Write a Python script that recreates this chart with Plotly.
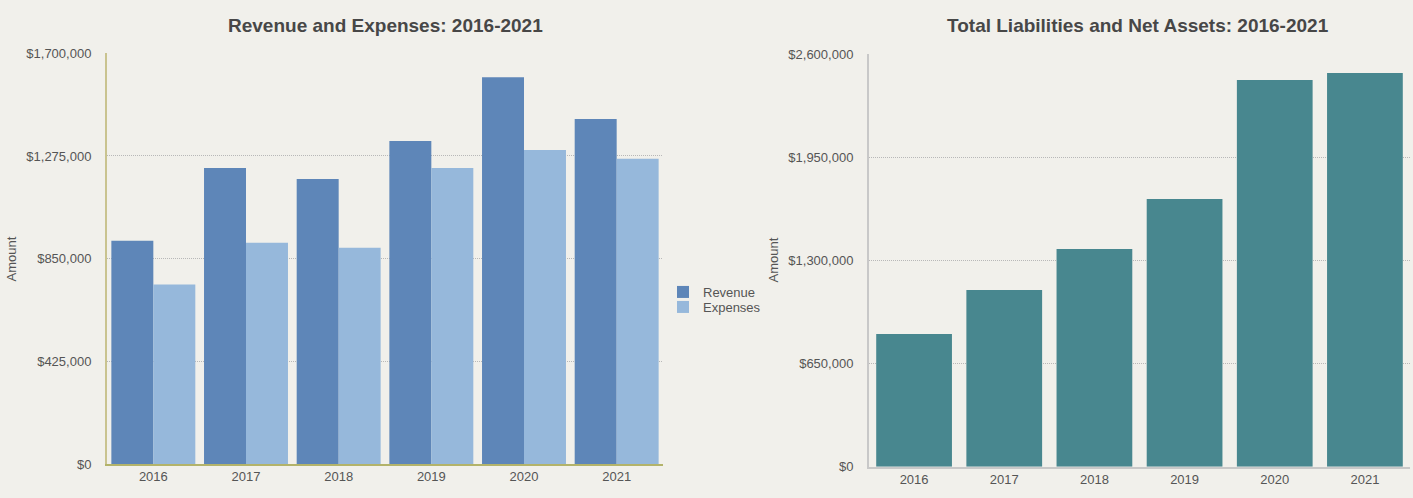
import plotly.graph_objects as go

years = ["2016", "2017", "2018", "2019", "2020", "2021"]
revenue = [924000, 1225000, 1180000, 1337000, 1601000, 1428000]
expenses = [743000, 916000, 895000, 1225000, 1300000, 1263000]
liab_net_assets = [836000, 1113000, 1372000, 1687000, 2436000, 2480000]

left_ticks = [0, 425000, 850000, 1275000, 1700000]
right_ticks = [0, 650000, 1300000, 1950000, 2600000]

W, H = 1413, 498
T, B = 53, 31
PH = H - T - B
BG = "#f1f0eb"
FONT = "Liberation Sans, Arial, sans-serif"


def px(x):
    return x / W


def py(y):
    return (H - B - y) / PH


fig = go.Figure()
fig.add_trace(go.Bar(x=years, y=revenue, name="Revenue", marker=dict(color="#5e86b8", line=dict(width=0)),
                     xaxis="x", yaxis="y", legend="legend"))
fig.add_trace(go.Bar(x=years, y=expenses, name="Expenses", marker=dict(color="#96b8db", line=dict(width=0)),
                     xaxis="x", yaxis="y", legend="legend2"))
fig.add_trace(go.Bar(x=years, y=liab_net_assets, name="Total Liabilities and Net Assets",
                     marker=dict(color="#48878f", line=dict(width=0)), showlegend=False,
                     xaxis="x2", yaxis="y2", width=0.84))

tickfont = dict(family=FONT, size=13, color="#555555")
legfont = dict(family=FONT, size=13, color="#555555")


def ytext(v):
    return "$" + format(v, ",")


GRID = dict(showgrid=True, gridcolor="#b8b8b8", griddash="1px,1px", gridwidth=1)

fig.update_layout(
    width=W, height=H,
    paper_bgcolor=BG, plot_bgcolor=BG,
    margin=dict(l=0, r=0, t=T, b=B),
    barmode="group", bargap=0.094, bargroupgap=0,
    font=dict(family=FONT, color="#555555"),
    xaxis=dict(domain=[px(107), px(663)], showgrid=False, showline=True, linecolor="#b3b36a", linewidth=1.5,
               ticks="", tickfont=tickfont, anchor="y"),
    yaxis=dict(domain=[py(464), py(53.3)], range=[0, 1700000], tickvals=left_ticks,
               ticktext=[ytext(v) for v in left_ticks], **GRID,
               showline=True, linecolor="#c9c38f", linewidth=2, zeroline=False,
               ticks="", tickfont=tickfont, ticklabelstandoff=11, anchor="x"),
    xaxis2=dict(domain=[px(869), px(1410)], showgrid=False, showline=True, linecolor="#c8c8c8", linewidth=2,
                ticks="", tickfont=tickfont, anchor="y2"),
    yaxis2=dict(domain=[py(466.7), py(54)], range=[0, 2600000], tickvals=right_ticks,
                ticktext=[ytext(v) for v in right_ticks], **GRID,
                showline=True, linecolor="#c8c8c8", linewidth=2, zeroline=False,
                ticks="", tickfont=tickfont, ticklabelstandoff=11, anchor="x2"),
    legend=dict(x=px(663), y=py(292), xanchor="left", yanchor="middle", bgcolor="rgba(0,0,0,0)",
                font=legfont, itemwidth=30),
    legend2=dict(x=px(663), y=py(307), xanchor="left", yanchor="middle", bgcolor="rgba(0,0,0,0)",
                 font=legfont, itemwidth=30),
    annotations=[
        dict(text="<b>Revenue and Expenses: 2016-2021</b>", x=px(385), y=py(26), xref="paper", yref="paper",
             xanchor="center", yanchor="middle", showarrow=False, font=dict(family=FONT, size=19, color="#474747")),
        dict(text="<b>Total Liabilities and Net Assets: 2016-2021</b>", x=px(1138), y=py(26), xref="paper",
             yref="paper", xanchor="center", yanchor="middle", showarrow=False,
             font=dict(family=FONT, size=19, color="#474747")),
        dict(text="Amount", x=px(10.5), y=py(259), xref="paper", yref="paper", textangle=-90,
             xanchor="center", yanchor="middle", showarrow=False, font=dict(family=FONT, size=13, color="#555555")),
        dict(text="Amount", x=px(772.5), y=py(260), xref="paper", yref="paper", textangle=-90,
             xanchor="center", yanchor="middle", showarrow=False, font=dict(family=FONT, size=13, color="#555555")),
    ],
)

fig.write_html("out.html", config={"displayModeBar": False},
               post_script="document.body.style.margin='0';document.body.style.background='%s';" % BG)
